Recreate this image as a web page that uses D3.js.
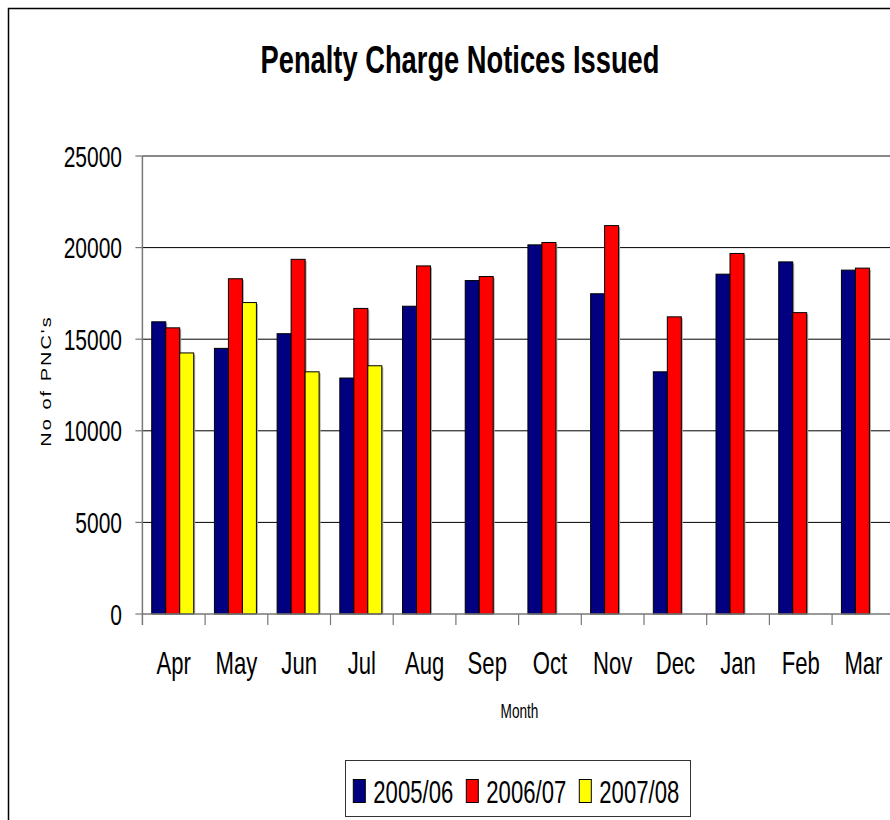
<!DOCTYPE html>
<html>
<head>
<meta charset="utf-8">
<script src="https://cdn.jsdelivr.net/npm/d3@7"></script>
<style>
  body { margin: 0; background: #fff; }
  text { font-family: "Liberation Sans", Arial, sans-serif; fill: #000; }
</style>
</head>
<body>
<div class="container"></div>
<script>
const months = ['Apr', 'May', 'Jun', 'Jul', 'Aug', 'Sep', 'Oct', 'Nov', 'Dec', 'Jan', 'Feb', 'Mar']
const seriesNames = ['2005/06', '2006/07', '2007/08']
const s0506 = [15950, 14500, 15300, 12880, 16800, 18200, 20150, 17480, 13220, 18550, 19220, 18770]
const s0607 = [15620, 18300, 19360, 16680, 19000, 18420, 20280, 21200, 16220, 19680, 16450, 18880]
const s0708 = [14250, 17000, 13220, 13550, null, null, null, null, null, null, null, null]
const yTicks = [0, 5000, 10000, 15000, 20000, 25000]
const colors = ['#000080', '#ff0000', '#ffff00']

const w = 890
const h = 820
const squash = 0.7

const svg = d3.select('.container')
  .append('svg')
  .attr('width', w)
  .attr('height', h)

// outer chart border (runs off the right and bottom edges)
svg.append('rect')
  .attr('x', 8.5).attr('y', 8.5)
  .attr('width', 1000).attr('height', 1000)
  .attr('fill', 'none')
  .attr('stroke', '#000')
  .attr('stroke-width', 1.5)

// squashed text helper, the original looks like a horizontally compressed Arial
const label = (g, x, y, txt, size, anchor, weight) => g.append('text')
  .attr('transform', `translate(${x},${y}) scale(${squash},1)`)
  .attr('text-anchor', anchor)
  .attr('font-size', size + 'px')
  .attr('font-weight', weight || 'normal')
  .text(txt)

const x0 = d3.scaleBand()
  .domain(months)
  .range([142.4, 142.4 + 12 * 62.7])

const x1 = d3.scaleBand()
  .domain(seriesNames)
  .range([0, x0.bandwidth()])
  .paddingOuter(0.74)
  .align(0.45)

const y = d3.scaleLinear()
  .domain([0, 25000])
  .range([614, 156])

const left = x0.range()[0]

// title
label(svg, 460, 73, 'Penalty Charge Notices Issued', 39, 'middle', 'bold')

// gridlines
svg.append('g')
  .selectAll('line')
  .data(yTicks.filter(d => d > 0 && d < 25000))
  .enter()
  .append('line')
  .attr('x1', left).attr('x2', w)
  .attr('y1', d => y(d)).attr('y2', d => y(d))
  .attr('stroke', '#000')
  .attr('stroke-width', 1)

// plot area top border
svg.append('line')
  .attr('x1', left).attr('x2', w)
  .attr('y1', y(25000)).attr('y2', y(25000))
  .attr('stroke', '#888')
  .attr('stroke-width', 2)

// bars
const rows = months.map((m, i) => ({ month: m, vals: [s0506[i], s0607[i], s0708[i]] }))

const group = svg.selectAll('.grp')
  .data(rows)
  .enter()
  .append('g')
  .attr('class', 'grp')
  .attr('transform', d => `translate(${x0(d.month)},0)`)

const barData = d => d.vals
  .map((v, k) => ({ key: seriesNames[k], value: v, k }))
  .filter(b => b.value != null)

// soft shadow
group.selectAll('.shadow')
  .data(barData)
  .enter()
  .append('rect')
  .attr('class', 'shadow')
  .attr('x', b => x1(b.key) + 1.5)
  .attr('y', b => y(b.value) + 1.5)
  .attr('width', x1.bandwidth())
  .attr('height', b => y(0) - y(b.value) - 1.5)
  .attr('fill', '#aaa')

group.selectAll('.bar')
  .data(barData)
  .enter()
  .append('rect')
  .attr('class', 'bar')
  .attr('x', b => x1(b.key))
  .attr('y', b => y(b.value))
  .attr('width', x1.bandwidth())
  .attr('height', b => y(0) - y(b.value))
  .attr('fill', b => colors[b.k])
  .attr('stroke', '#000')
  .attr('stroke-width', 1)

// y axis
svg.append('line')
  .attr('x1', left).attr('x2', left)
  .attr('y1', y(25000)).attr('y2', y(0) + 11)
  .attr('stroke', '#777')
  .attr('stroke-width', 1.5)

svg.append('g')
  .selectAll('line')
  .data(yTicks)
  .enter()
  .append('line')
  .attr('x1', left - 7).attr('x2', left)
  .attr('y1', d => y(d)).attr('y2', d => y(d))
  .attr('stroke', '#777')
  .attr('stroke-width', 1.2)

yTicks.forEach(t => {
  label(svg, 122, y(t), t, 30, 'end').attr('dy', '0.35em')
})

// x axis
svg.append('line')
  .attr('x1', left).attr('x2', w)
  .attr('y1', y(0)).attr('y2', y(0))
  .attr('stroke', '#777')
  .attr('stroke-width', 1.5)

svg.append('g')
  .selectAll('line')
  .data(months.slice(1))
  .enter()
  .append('line')
  .attr('x1', d => x0(d)).attr('x2', d => x0(d))
  .attr('y1', y(0)).attr('y2', y(0) + 11)
  .attr('stroke', '#777')
  .attr('stroke-width', 1.2)

months.forEach(m => {
  label(svg, x0(m) + x0.bandwidth() / 2, 674, m, 31.6, 'middle')
})

// axis titles
label(svg, 519.5, 718, 'Month', 19.5, 'middle')

svg.append('text')
  .attr('transform', `translate(51,381) scale(${squash},1) rotate(-90)`)
  .attr('text-anchor', 'middle')
  .attr('font-size', '20px')
  .attr('letter-spacing', '2px')
  .text("No of PNC's")

// legend
const legend = svg.append('g')
legend.append('rect')
  .attr('x', 345.5).attr('y', 760.5)
  .attr('width', 345).attr('height', 56)
  .attr('fill', '#fff')
  .attr('stroke', '#333')
  .attr('stroke-width', 1)

const legendItem = legend.selectAll('.legend-item')
  .data(seriesNames)
  .enter()
  .append('g')
  .attr('class', 'legend-item')
  .attr('transform', (d, i) => `translate(${353.3 + i * 113},0)`)

legendItem.append('rect')
  .attr('x', 0).attr('y', 779.5)
  .attr('width', 12).attr('height', 23)
  .attr('fill', (d, i) => colors[i])
  .attr('stroke', '#000')
  .attr('stroke-width', 1)

legendItem.each(function (d) {
  label(d3.select(this), 20, 803, d, 31.6, 'start')
})
</script>
</body>
</html>
